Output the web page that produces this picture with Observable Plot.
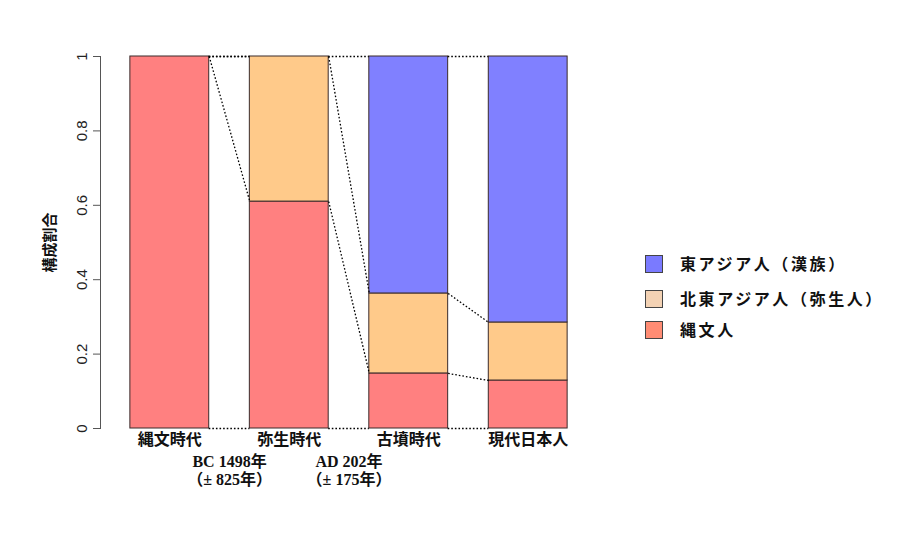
<!DOCTYPE html>
<html>
<head>
<meta charset="utf-8">
<script src="https://cdn.jsdelivr.net/npm/d3@7"></script>
<script src="https://cdn.jsdelivr.net/npm/@observablehq/plot@0.6"></script>
<style>
  body { margin: 0; background: #fff; }
  #wrap { position: relative; width: 924px; height: 540px; }
  #legend { position: absolute; left: 645px; top: 250px; font-family: "Noto Sans CJK JP", sans-serif; font-weight: bold; font-size: 16px; color: #111; }
  .item { position: absolute; left: 0; white-space: nowrap; height: 18px; line-height: 18px; }
  .sw { position: absolute; left: 0; top: 0; width: 16px; height: 16px; border: 1px solid #444; }
  .lab { position: absolute; left: 35px; top: -1px; letter-spacing: 2.6px; }
</style>
</head>
<body>
<div id="wrap"></div>
<script>
// ---- data ----
const categories = ["縄文時代", "弥生時代", "古墳時代", "現代日本人"];
const series = ["縄文人", "北東アジア人（弥生人）", "東アジア人（漢族）"];
const jomonShare = [1, 0.61, 0.148, 0.129];
const northeastShare = [0, 0.39, 0.215, 0.156];
const eastAsiaShare = [0, 0, 0.637, 0.715];
const yTicks = [0, 0.2, 0.4, 0.6, 0.8, 1];
const yTickLabels = ["0", "0.2", "0.4", "0.6", "0.8", "1"];
const dateLabels = [
  {before: 1, text: "BC 1498年\n（± 825年）"},
  {before: 2, text: "AD 202年\n（± 175年）"}
];
const barColors = ["#FF8080", "#FFCA8A", "#8080FF"];
const legendColors = ["#7A7AFF", "#F3D2B4", "#FF8C74"];
const legendOrder = ["東アジア人（漢族）", "北東アジア人（弥生人）", "縄文人"];

// ---- derived table ----
const shares = [jomonShare, northeastShare, eastAsiaShare];
const segs = [];
const boundaries = categories.map(() => [0]);
categories.forEach((c, i) => {
  let acc = 0;
  shares.forEach((arr, s) => {
    const v = arr[i];
    segs.push({i, cat: c, series: series[s], y1: acc, y2: acc + v, color: barColors[s]});
    acc += v;
    boundaries[i].push(acc);
  });
});
const half = 0.33;
const links = [];
for (let i = 0; i < categories.length - 1; i++) {
  for (let k = 0; k < boundaries[i].length; k++) {
    links.push({x1: i + half, x2: i + 1 - half, y1: boundaries[i][k], y2: boundaries[i + 1][k]});
  }
}
const dotted = {stroke: "#000", strokeWidth: 1.3, strokeDasharray: "1.6,2"};

const chart = Plot.plot({
  width: 924,
  height: 540,
  marginLeft: 100,
  marginRight: 327,
  marginTop: 56,
  marginBottom: 112,
  style: {background: "#fff", fontFamily: "Liberation Sans, Arial, sans-serif", overflow: "visible"},
  x: {type: "linear", domain: [-0.58, 3.58], axis: null},
  y: {domain: [0, 1], axis: null},
  marks: [
    Plot.rectY(segs.filter(d => d.y2 > d.y1), {
      x1: d => d.i - half, x2: d => d.i + half, y1: "y1", y2: "y2",
      fill: "color", stroke: "#3a2a2a", strokeWidth: 1
    }),
    Plot.link(links.filter(d => d.y1 !== d.y2), {x1: "x1", x2: "x2", y1: "y1", y2: "y2", ...dotted}),
    Plot.ruleY(links.filter(d => d.y1 === d.y2), {y: "y1", x1: "x1", x2: "x2", ...dotted}),
    Plot.frame({anchor: "left", stroke: "#555"}),
    Plot.axisY({ticks: yTicks, tickSize: 7, tickFormat: () => "", stroke: "#555", anchor: "left"}),
    Plot.text(yTicks, {
      y: d => d, text: (d, j) => yTickLabels[j], frameAnchor: "left", dx: -18,
      rotate: -90, textAnchor: "middle", fontSize: 15, fill: "#222"
    }),
    Plot.text(["構成割合"], {
      frameAnchor: "left", dx: -50, rotate: -90, textAnchor: "middle",
      fontSize: 15, fontWeight: "bold", fontFamily: "Noto Sans CJK JP", fill: "#111"
    }),
    Plot.text(categories, {
      x: (d, i) => i, frameAnchor: "bottom", dy: 16, fontSize: 16, fontWeight: "bold",
      fontFamily: "Noto Sans CJK JP", fill: "#111"
    }),
    Plot.text(dateLabels, {
      x: d => d.before - 0.5, text: "text", frameAnchor: "bottom", dy: 56,
      lineHeight: 1.1, fontSize: 16, fontWeight: "bold",
      fontFamily: "Liberation Serif, Noto Sans CJK JP, serif", fill: "#111"
    })
  ]
});

const wrap = document.getElementById("wrap");
wrap.appendChild(chart);

const legend = document.createElement("div");
legend.id = "legend";
const tops = [5, 40, 71];
legendOrder.forEach((name, j) => {
  const item = document.createElement("div");
  item.className = "item";
  item.style.top = tops[j] + "px";
  const sw = document.createElement("div");
  sw.className = "sw";
  sw.style.background = legendColors[j];
  const lab = document.createElement("div");
  lab.className = "lab";
  lab.textContent = name;
  item.appendChild(sw);
  item.appendChild(lab);
  legend.appendChild(item);
});
wrap.appendChild(legend);
</script>
</body>
</html>
